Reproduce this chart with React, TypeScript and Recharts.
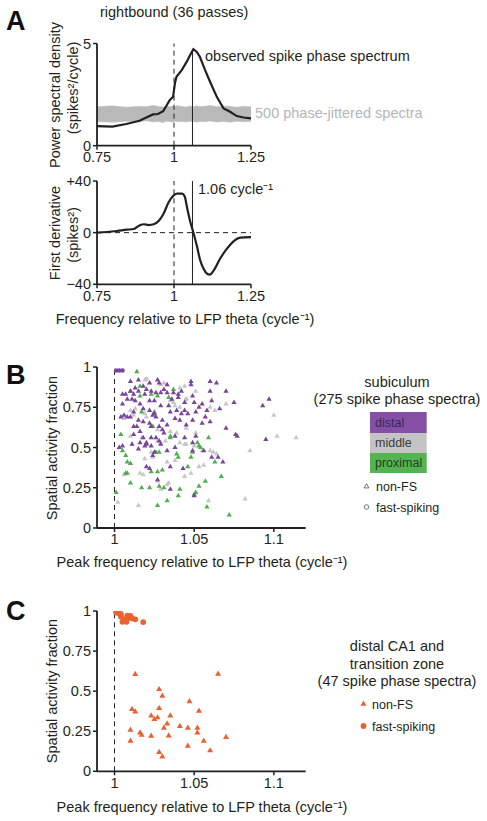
import React from 'react';
import {
  ComposedChart, Line, Area, XAxis, YAxis, ReferenceLine, ScatterChart, Scatter,
} from 'recharts';

// ---------- Panel A data ----------
const specFreq = [0.75, 0.80, 0.845, 0.888, 0.91, 0.932, 0.948, 0.965, 0.975, 0.986, 0.997, 1.003, 1.008, 1.025, 1.041, 1.052, 1.063, 1.074, 1.084, 1.101, 1.117, 1.139, 1.161, 1.182, 1.204, 1.226, 1.25];
const specPower = [0.96, 0.93, 1.06, 1.22, 1.38, 1.53, 1.55, 1.69, 1.94, 2.23, 2.39, 3.05, 3.37, 3.70, 4.10, 4.43, 4.72, 4.59, 4.35, 3.70, 3.13, 2.39, 1.82, 1.66, 1.45, 1.38, 1.34];
const jitterLow = [1.18, 1.15, 1.2, 1.17, 1.22, 1.16, 1.19, 1.14, 1.2, 1.18, 1.15, 1.21, 1.17, 1.19, 1.16, 1.2, 1.18, 1.15, 1.19, 1.17, 1.21, 1.16, 1.18, 1.15, 1.2, 1.17, 1.19];
const jitterHigh = [1.9, 1.95, 1.88, 1.93, 1.9, 1.97, 1.92, 1.89, 1.95, 1.91, 1.94, 1.9, 1.96, 1.92, 1.89, 1.94, 1.91, 1.95, 1.9, 1.93, 1.97, 1.9, 1.94, 1.92, 1.88, 1.93, 1.9];
const peakFreq = 1.06;
const peakPower = 4.72;

const derivFreq = [0.75, 0.782, 0.815, 0.847, 0.869, 0.880, 0.891, 0.902, 0.918, 0.934, 0.950, 0.966, 0.983, 0.999, 1.010, 1.026, 1.035, 1.042, 1.053, 1.064, 1.075, 1.085, 1.096, 1.107, 1.116, 1.129, 1.150, 1.172, 1.194, 1.215, 1.25];
const derivValue = [0, 0.5, 1.3, 2.3, 2.8, 4.4, 5.9, 6.5, 5.9, 6.5, 9, 14.7, 23.7, 28.9, 30.2, 30.2, 28, 19.9, 8.3, -0.8, -11, -21.4, -27.9, -31.7, -32.5, -29.2, -20, -12.4, -6.5, -3.9, -3.4];

const freqTicks = [0.75, 1, 1.25];
const powerTicks = [0, 5];
const derivTicks = [-40, 0, 40];

// ---------- Panel B data (subiculum) ----------
const distalNonFS = [
  [1.010, 0.91], [1.015, 0.92], [1.018, 0.88], [1.022, 0.90], [1.027, 0.92], [1.028, 0.90], [1.033, 0.89], [1.048, 0.91], [1.048, 0.89], [1.060, 0.91], [1.064, 0.90], [1.070, 0.85], [1.060, 0.85], [1.075, 0.78], [1.097, 0.80], [1.093, 0.76],
  [1.005, 0.83], [1.007, 0.83], [1.010, 0.85], [1.012, 0.83], [1.015, 0.85], [1.019, 0.83], [1.023, 0.85], [1.026, 0.84], [1.029, 0.84], [1.033, 0.84], [1.037, 0.84], [1.040, 0.83], [1.042, 0.85], [1.049, 0.82], [1.050, 0.78], [1.055, 0.77], [1.061, 0.79], [1.058, 0.73], [1.066, 0.74],
  [1.005, 0.77], [1.011, 0.80], [1.013, 0.79], [1.016, 0.77], [1.022, 0.79], [1.025, 0.79], [1.029, 0.76], [1.035, 0.72], [1.039, 0.73], [1.042, 0.71], [1.046, 0.71], [1.051, 0.72], [1.053, 0.75], [1.044, 0.73],
  [1.006, 0.70], [1.004, 0.69], [1.008, 0.69], [1.010, 0.69], [1.015, 0.67], [1.018, 0.66], [1.024, 0.70], [1.026, 0.69], [1.025, 0.71], [1.030, 0.67], [1.033, 0.64], [1.038, 0.68], [1.041, 0.67], [1.045, 0.64], [1.049, 0.67], [1.057, 0.69], [1.060, 0.66],
  [1.012, 0.63], [1.014, 0.63], [1.016, 0.60], [1.022, 0.65], [1.023, 0.63], [1.028, 0.63], [1.030, 0.61],
  [1.012, 0.58], [1.018, 0.56], [1.020, 0.53], [1.023, 0.56], [1.026, 0.56], [1.031, 0.59], [1.038, 0.57], [1.044, 0.56], [1.051, 0.57], [1.070, 0.62], [1.076, 0.58], [1.077, 0.57], [1.095, 0.55],
  [1.003, 0.50], [1.005, 0.51], [1.011, 0.52], [1.016, 0.53], [1.019, 0.51], [1.020, 0.52], [1.023, 0.51], [1.024, 0.45], [1.029, 0.52], [1.033, 0.48], [1.038, 0.50], [1.049, 0.53], [1.049, 0.48], [1.056, 0.48], [1.061, 0.44], [1.065, 0.44], [1.068, 0.41],
  [1.020, 0.38], [1.022, 0.37], [1.035, 0.38], [1.043, 0.37], [1.027, 0.30], [1.035, 0.24], [1.050, 0.20],
  [1.013, 0.87], [1.020, 0.86], [1.031, 0.86], [1.036, 0.80], [1.018, 0.74], [1.022, 0.73], [1.012, 0.72], [1.034, 0.76], [1.028, 0.54], [1.015, 0.49], [1.025, 0.47], [1.040, 0.81], [1.044, 0.78], [1.055, 0.65], [1.008, 0.80],
];
const distalFS = [[1.001, 0.978], [1.003, 0.978], [1.005, 0.978]];

const middleNonFS = [
  [1.019, 0.92], [1.029, 0.89], [1.031, 0.90], [1.041, 0.87], [1.044, 0.88], [1.051, 0.85],
  [1.045, 0.80], [1.037, 0.78], [1.035, 0.79], [1.041, 0.75], [1.038, 0.76], [1.010, 0.73], [1.013, 0.74],
  [1.006, 0.68], [1.005, 0.69], [1.012, 0.70], [1.019, 0.71], [1.020, 0.69], [1.027, 0.61], [1.035, 0.60],
  [1.039, 0.59], [1.045, 0.62], [1.051, 0.59], [1.060, 0.75], [1.063, 0.73], [1.070, 0.77], [1.100, 0.70],
  [1.102, 0.57], [1.114, 0.56], [1.085, 0.48], [1.060, 0.48], [1.055, 0.48], [1.010, 0.57], [1.017, 0.56],
  [1.041, 0.53], [1.045, 0.52], [1.032, 0.54], [1.027, 0.54], [1.029, 0.53], [1.019, 0.43], [1.033, 0.41],
  [1.038, 0.42], [1.044, 0.32], [1.048, 0.34], [1.053, 0.38], [1.056, 0.39], [1.023, 0.47], [1.024, 0.44],
  [1.016, 0.34], [1.018, 0.33], [1.006, 0.33], [1.027, 0.29], [1.033, 0.27], [1.034, 0.28], [1.029, 0.24],
  [1.002, 0.16], [1.015, 0.14], [1.059, 0.17], [1.082, 0.18], [1.062, 0.47], [1.064, 0.46], [1.044, 0.52], [1.050, 0.51],
];
const middleFS = [[1.020, 0.925], [1.045, 0.80]];

const proximalNonFS = [
  [1.014, 0.97], [1.010, 0.85], [1.016, 0.88], [1.016, 0.82], [1.023, 0.83], [1.027, 0.82], [1.037, 0.86],
  [1.034, 0.81], [1.017, 0.72], [1.025, 0.72], [1.023, 0.63], [1.024, 0.63], [1.004, 0.58], [1.035, 0.57],
  [1.035, 0.56], [1.059, 0.56], [1.005, 0.48], [1.007, 0.45], [1.008, 0.41], [1.010, 0.40], [1.007, 0.34],
  [1.008, 0.34], [1.010, 0.28], [1.017, 0.25], [1.022, 0.25], [1.001, 0.22], [1.027, 0.14], [1.033, 0.17],
  [1.040, 0.20], [1.041, 0.24], [1.050, 0.21], [1.051, 0.22], [1.053, 0.26], [1.057, 0.29], [1.058, 0.13],
  [1.072, 0.08], [1.052, 0.53], [1.053, 0.51], [1.054, 0.50], [1.049, 0.47], [1.048, 0.44], [1.039, 0.46],
  [1.040, 0.44], [1.046, 0.38], [1.030, 0.36], [1.023, 0.35], [1.027, 0.35], [1.026, 0.47], [1.028, 0.47],
  [1.063, 0.41], [1.067, 0.32], [1.028, 0.26], [1.031, 0.25],
];

// ---------- Panel C data (distal CA1 + transition zone) ----------
const caNonFS = [
  [1.013, 0.605], [1.065, 0.607], [1.028, 0.511], [1.030, 0.470], [1.047, 0.435], [1.011, 0.387], [1.013, 0.372],
  [1.028, 0.393], [1.053, 0.376], [1.023, 0.347], [1.035, 0.347], [1.027, 0.335], [1.025, 0.324], [1.033, 0.297],
  [1.041, 0.281], [1.031, 0.270], [1.046, 0.270], [1.052, 0.270], [1.010, 0.258], [1.052, 0.241], [1.016, 0.241],
  [1.017, 0.227], [1.023, 0.220], [1.034, 0.222], [1.070, 0.212], [1.010, 0.189], [1.056, 0.189], [1.046, 0.158],
  [1.060, 0.129], [1.028, 0.119], [1.030, 0.091],
];
const caFS = [
  [1.001, 0.990], [1.002, 0.994], [1.003, 0.985], [1.004, 0.965], [1.005, 0.933], [1.006, 0.948], [1.0075, 0.944],
  [1.009, 0.960], [1.010, 0.969], [1.011, 0.954], [1.013, 0.948], [1.0075, 0.933], [1.004, 0.980], [1.008, 0.971], [1.018, 0.931],
];

const peakTicks = [1, 1.05, 1.1];
const fracTicks = [0, 0.25, 0.5, 0.75, 1];

// ---------- styling ----------
const FONT = '"Liberation Sans", Arial, Helvetica, sans-serif';
const INK = '#231f20';
const PURPLE = '#7a449c';
const GRAY = '#c6c6c6';
const GREEN = '#4fae4c';
const ORANGE = '#ea6230';
const FS = 14.5;
const LEG = 12.5;

const toPts = (arr: number[][]) => arr.map(([x, y]) => ({ x, y }));

const specData = specFreq.map((f, i) => ({ f, power: specPower[i], band: [jitterLow[i], jitterHigh[i]] }));
const derivData = derivFreq.map((f, i) => ({ f, d: derivValue[i] }));

const axisLine = { stroke: INK, strokeWidth: 1.8 };
const tickLine = { stroke: INK, strokeWidth: 1.5 };
const tickStyle = { fontSize: FS, fill: INK, fontFamily: FONT };

const makeTri = (side: number) => (props: any) => {
  const { cx, cy, fill } = props;
  if (cx == null || cy == null) return <g />;
  const h = side * 0.866;
  return (
    <polygon
      points={`${cx},${cy - (2 * h) / 3} ${cx - side / 2},${cy + h / 3} ${cx + side / 2},${cy + h / 3}`}
      fill={fill}
    />
  );
};
const makeDot = (r: number) => (props: any) => {
  const { cx, cy, fill } = props;
  if (cx == null || cy == null) return <g />;
  return <circle cx={cx} cy={cy} r={r} fill={fill} />;
};

const TriB = makeTri(5.2);
const DotB = makeDot(2.3);
const TriC = makeTri(6);
const DotC = makeDot(2.9);

const abs = (top: number): React.CSSProperties => ({ position: 'absolute', left: 0, top });

function PanelA1() {
  return (
    <div style={abs(0)}>
      <ComposedChart width={487} height={170} data={specData} margin={{ top: 43.5, left: 57, right: 236, bottom: 4.3 }}>
        <XAxis type="number" dataKey="f" domain={[0.75, 1.25]} ticks={freqTicks} tickFormatter={(v: number) => String(v)}
          axisLine={axisLine} tickLine={tickLine} tick={tickStyle} tickSize={4} height={20} />
        <YAxis type="number" domain={[0, 5]} ticks={powerTicks} axisLine={axisLine} tickLine={tickLine}
          tick={tickStyle} tickSize={4} width={40} />
        <Area type="linear" dataKey="band" stroke="#c0c0c0" strokeWidth={0.6} fill="#b9b9b9" fillOpacity={1} isAnimationActive={false} />
        <ReferenceLine x={1} stroke={INK} strokeWidth={1} strokeDasharray="5 4" />
        <ReferenceLine segment={[{ x: peakFreq, y: 0 }, { x: peakFreq, y: peakPower }]} stroke={INK} strokeWidth={1} />
        <Line type="linear" dataKey="power" stroke={INK} strokeWidth={2.2} dot={false} isAnimationActive={false} />
      </ComposedChart>
    </div>
  );
}

function PanelA2() {
  return (
    <div style={abs(160)}>
      <ComposedChart width={487} height={150} data={derivData} margin={{ top: 21, left: 57, right: 236, bottom: 5.7 }}>
        <XAxis type="number" dataKey="f" domain={[0.75, 1.25]} ticks={freqTicks} tickFormatter={(v: number) => String(v)}
          axisLine={axisLine} tickLine={tickLine} tick={tickStyle} tickSize={4} height={20} />
        <YAxis type="number" domain={[-40, 40]} ticks={derivTicks}
          tickFormatter={(v: number) => (v > 0 ? `+${v}` : v < 0 ? `\u2212${Math.abs(v)}` : '0')}
          axisLine={axisLine} tickLine={tickLine} tick={tickStyle} tickSize={4} width={40} />
        <ReferenceLine y={0} stroke={INK} strokeWidth={1} strokeDasharray="5 4" />
        <ReferenceLine x={1} stroke={INK} strokeWidth={1} strokeDasharray="5 4" />
        <ReferenceLine x={peakFreq} stroke={INK} strokeWidth={1} />
        <Line type="monotone" dataKey="d" stroke={INK} strokeWidth={2.2} dot={false} isAnimationActive={false} />
      </ComposedChart>
    </div>
  );
}

function PanelB() {
  return (
    <div style={abs(330)}>
      <ScatterChart width={487} height={250} margin={{ top: 37, left: 57, right: 181.3, bottom: 32 }}>
        <XAxis type="number" dataKey="x" domain={[0.989, 1.12]} ticks={peakTicks} tickFormatter={(v: number) => String(v)}
          axisLine={axisLine} tickLine={tickLine} tick={tickStyle} tickSize={4} height={20} allowDataOverflow />
        <YAxis type="number" dataKey="y" domain={[0, 1]} ticks={fracTicks} axisLine={axisLine} tickLine={tickLine}
          tick={tickStyle} tickSize={4} width={40} allowDataOverflow />
        <ReferenceLine x={1} stroke={INK} strokeWidth={1} strokeDasharray="5 4" />
        <Scatter data={toPts(middleNonFS)} fill={GRAY} shape={TriB} isAnimationActive={false} />
        <Scatter data={toPts(middleFS)} fill={GRAY} shape={DotB} isAnimationActive={false} />
        <Scatter data={toPts(proximalNonFS)} fill={GREEN} shape={TriB} isAnimationActive={false} />
        <Scatter data={toPts(distalNonFS)} fill={PURPLE} shape={TriB} isAnimationActive={false} />
        <Scatter data={toPts(distalFS)} fill={PURPLE} shape={DotB} isAnimationActive={false} />
      </ScatterChart>
    </div>
  );
}

function PanelC() {
  return (
    <div style={abs(590)}>
      <ScatterChart width={487} height={231} margin={{ top: 21, left: 57, right: 181.3, bottom: 29.7 }}>
        <XAxis type="number" dataKey="x" domain={[0.989, 1.12]} ticks={peakTicks} tickFormatter={(v: number) => String(v)}
          axisLine={axisLine} tickLine={tickLine} tick={tickStyle} tickSize={4} height={20} allowDataOverflow />
        <YAxis type="number" dataKey="y" domain={[0, 1]} ticks={fracTicks} axisLine={axisLine} tickLine={tickLine}
          tick={tickStyle} tickSize={4} width={40} allowDataOverflow />
        <ReferenceLine x={1} stroke={INK} strokeWidth={1} strokeDasharray="5 4" />
        <Scatter data={toPts(caNonFS)} fill={ORANGE} shape={TriC} isAnimationActive={false} />
        <Scatter data={toPts(caFS)} fill={ORANGE} shape={DotC} isAnimationActive={false} />
      </ScatterChart>
    </div>
  );
}

function Overlay() {
  const t = { fontFamily: FONT, fill: INK, fontSize: FS } as const;
  const big = { fontFamily: FONT, fill: '#111', fontSize: 27, fontWeight: 700 } as const;
  const tri = (cx: number, cy: number, s: number) => {
    const h = s * 0.866;
    return `${cx},${cy - (2 * h) / 3} ${cx - s / 2},${cy + h / 3} ${cx + s / 2},${cy + h / 3}`;
  };
  return (
    <svg width={487} height={821} style={{ position: 'absolute', left: 0, top: 0, pointerEvents: 'none' }}>
      {/* Panel A */}
      <text x={6} y={30} {...big}>A</text>
      <text x={100} y={17} {...t}>rightbound (36 passes)</text>
      <text x={205} y={61} {...t}>observed spike phase spectrum</text>
      <text x={255} y={118} {...t} fill="#b5b5b5">500 phase-jittered spectra</text>
      <text transform="translate(60,95) rotate(-90)" textAnchor="middle" {...t}>Power spectral density</text>
      <text transform="translate(78,88) rotate(-90)" textAnchor="middle" {...t}>(spikes²/cycle)</text>
      <text transform="translate(60,233) rotate(-90)" textAnchor="middle" {...t}>First derivative</text>
      <text transform="translate(78,235) rotate(-90)" textAnchor="middle" {...t}>(spikes²)</text>
      <text x={198} y={194} {...t}>1.06 cycle⁻¹</text>
      <text x={185} y={324} textAnchor="middle" {...t}>Frequency relative to LFP theta (cycle⁻¹)</text>

      {/* Panel B */}
      <text x={6} y={384} {...big}>B</text>
      <text transform="translate(57,448) rotate(-90)" textAnchor="middle" {...t}>Spatial activity fraction</text>
      <text x={202} y={567} textAnchor="middle" {...t}>Peak frequency relative to LFP theta (cycle⁻¹)</text>
      <text x={397} y={387} textAnchor="middle" {...t}>subiculum</text>
      <text x={397} y={404} textAnchor="middle" {...t}>(275 spike phase spectra)</text>
      <rect x={370} y={412} width={56.7} height={21} fill="#8350a5" />
      <rect x={370} y={433} width={56.7} height={20} fill="#c4c4c4" />
      <rect x={370} y={453} width={56.7} height={20} fill="#55b452" />
      <text x={375} y={427} {...t} fontSize={LEG} fill="#3a2850">distal</text>
      <text x={375} y={447} {...t} fontSize={LEG} fill="#3a3a3a">middle</text>
      <text x={375} y={467} {...t} fontSize={LEG} fill="#23401f">proximal</text>
      <polygon points={tri(366.5, 486.5, 5)} fill="none" stroke="#555" strokeWidth={0.8} />
      <text x={376} y={491} {...t} fontSize={LEG}>non-FS</text>
      <circle cx={366.5} cy={507} r={2.3} fill="none" stroke="#555" strokeWidth={0.8} />
      <text x={376} y={512} {...t} fontSize={LEG}>fast-spiking</text>

      {/* Panel C */}
      <text x={6} y={620} {...big}>C</text>
      <text transform="translate(57,691) rotate(-90)" textAnchor="middle" {...t}>Spatial activity fraction</text>
      <text x={202} y={812} textAnchor="middle" {...t}>Peak frequency relative to LFP theta (cycle⁻¹)</text>
      <text x={397} y={651} textAnchor="middle" {...t}>distal CA1 and</text>
      <text x={397} y={669} textAnchor="middle" {...t}>transition zone</text>
      <text x={397} y={686} textAnchor="middle" {...t}>(47 spike phase spectra)</text>
      <polygon points={tri(363.5, 704, 6)} fill={ORANGE} />
      <text x={372} y={709} {...t} fontSize={LEG}>non-FS</text>
      <circle cx={363.5} cy={726} r={2.9} fill={ORANGE} />
      <text x={372} y={731} {...t} fontSize={LEG}>fast-spiking</text>
    </svg>
  );
}

export default function App() {
  return (
    <div style={{ position: 'absolute', left: 0, top: 0, width: 487, height: 821, background: '#fff', fontFamily: FONT, overflow: 'hidden' }}>
      <PanelA1 />
      <PanelA2 />
      <PanelB />
      <PanelC />
      <Overlay />
    </div>
  );
}
